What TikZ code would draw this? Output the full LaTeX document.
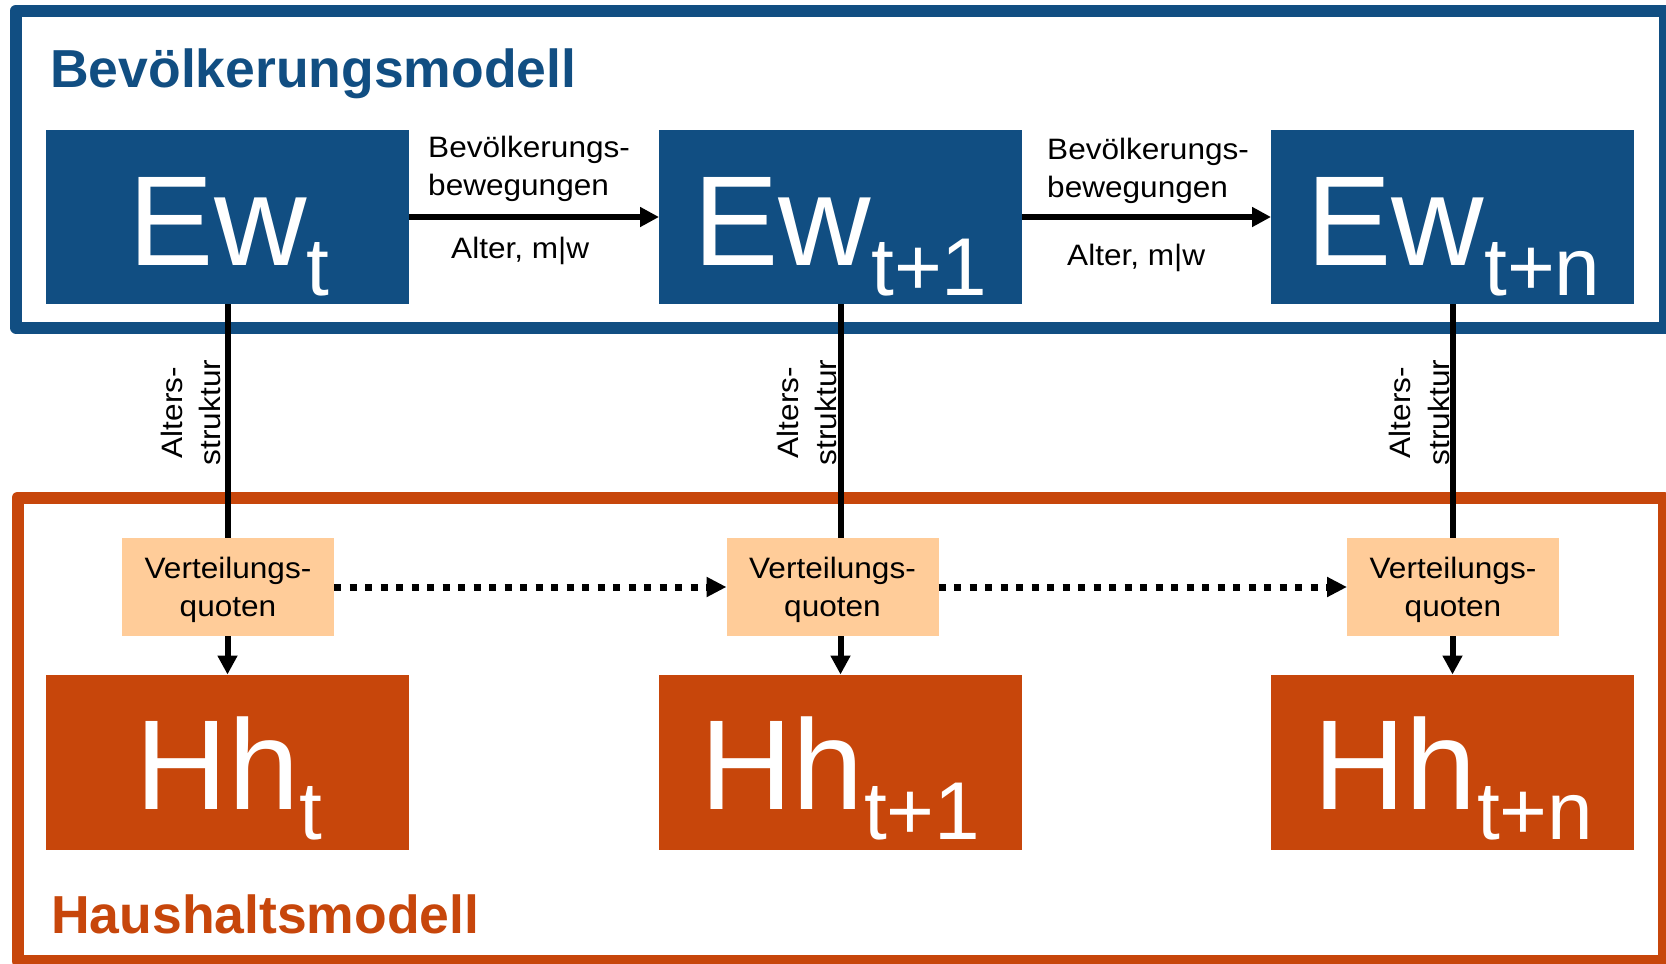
\documentclass[tikz,border=0pt]{standalone}
\usepackage{fontspec}
\setmainfont{Liberation Sans}
\newfontfamily\lblfont[FakeStretch=1.07]{Liberation Sans}
\usetikzlibrary{arrows.meta,calc}
\definecolor{bvblue}{HTML}{114E82}
\definecolor{hhorange}{HTML}{C7460B}
\definecolor{vqpeach}{HTML}{FFCC99}
\begin{document}
\begin{tikzpicture}[x=1pt,y=-1pt,
  frame/.style={line width=12pt, line join=round},
  ewbox/.style={fill=bvblue, draw=none, minimum width=363pt, minimum height=174pt, inner sep=0pt, outer sep=0pt},
  hhbox/.style={fill=hhorange, draw=none, minimum width=363pt, minimum height=175pt, inner sep=0pt, outer sep=0pt},
  bigtxt/.style={text=white, font=\fontsize{128}{128}\selectfont, inner sep=0pt, anchor=base},
  vqbox/.style={fill=vqpeach, draw=none, minimum width=212pt, minimum height=98pt, inner sep=0pt, outer sep=0pt},
  vqtxt/.style={inner sep=0pt, align=center, font=\lblfont\fontsize{29.5}{38.5}\selectfont},
  lbl/.style={font=\lblfont\fontsize{29.5}{38.5}\selectfont, inner sep=0pt, align=left, anchor=base west},
  rotlbl/.style={font=\lblfont\fontsize{29.5}{38.5}\selectfont, inner sep=0pt, align=center, rotate=90, anchor=south},
  conn/.style={line width=6pt, -{Triangle[length=19pt,width=19pt]}},
  plainconn/.style={line width=6pt},
  dotconn/.style={line width=7pt, dash pattern=on 7pt off 8.5pt, -{Triangle[length=20pt,width=19pt]}},
  titletxt/.style={font=\bfseries\fontsize{53.5}{53.5}\selectfont, inner sep=0pt, anchor=base west}
]
\useasboundingbox (0,0) rectangle (1666,964);
\fill[white] (0,0) rectangle (1666,964);
% frames
\draw[frame, draw=bvblue] (16,10.5) rectangle (1665,327.5);
\draw[frame, draw=hhorange] (17.5,497.5) rectangle (1664,961);
% titles
\node[titletxt, text=bvblue] (t1) at (50,87) {Bevölkerungsmodell};
\node[titletxt, text=hhorange] (t2) at (51,933) {Haushaltsmodell};
% Ew boxes
\node[ewbox] (ew1) at (227.5,217) {};
\node[ewbox] (ew2) at (840.5,217) {};
\node[ewbox] (ew3) at (1452.5,217) {};
\node[bigtxt] (ew1t) at (229,265) {Ew\raisebox{-30pt}{\fontsize{82}{82}\selectfont t}};
\node[bigtxt] (ew2t) at (840.5,265) {Ew\raisebox{-30pt}{\fontsize{82}{82}\selectfont t+1}};
\node[bigtxt] (ew3t) at (1453.5,265) {Ew\raisebox{-30pt}{\fontsize{82}{82}\selectfont t+n}};
% Hh boxes
\node[hhbox] (hh1) at (227.5,762) {};
\node[hhbox] (hh2) at (840.5,762) {};
\node[hhbox] (hh3) at (1452.5,762) {};
\node[bigtxt] (hh1t) at (229,809) {Hh\raisebox{-30pt}{\fontsize{82}{82}\selectfont t}};
\node[bigtxt] (hh2t) at (840.5,809) {Hh\raisebox{-30pt}{\fontsize{82}{82}\selectfont t+1}};
\node[bigtxt] (hh3t) at (1453.5,809) {Hh\raisebox{-30pt}{\fontsize{82}{82}\selectfont t+n}};
% Verteilungsquoten
\node[vqbox] (vq1) at (228,587) {};
\node[vqbox] (vq2) at (832.5,587) {};
\node[vqbox] (vq3) at (1453,587) {};
\node[vqtxt] (vq1t) at (228,590) {Verteilungs-\\quoten};
\node[vqtxt] (vq2t) at (832.5,590) {Verteilungs-\\quoten};
\node[vqtxt] (vq3t) at (1453,590) {Verteilungs-\\quoten};
% horizontal arrows
\draw[conn] (ew1) -- (ew2);
\draw[conn] (ew2) -- (ew3);
\node[lbl] (bl1) at (428,195.5) {Bevölkerungs-\\bewegungen};
\node[lbl] (bl2) at (1047,197.5) {Bevölkerungs-\\bewegungen};
\node[lbl] (am1) at (451,258) {Alter, m|w};
\node[lbl] (am2) at (1067,265) {Alter, m|w};
% vertical connectors
\draw[plainconn] (ew1.south) -- (ew1.south |- vq1.north);
\draw[plainconn] (ew2.south) -- (ew2.south |- vq2.north);
\draw[plainconn] (ew3.south) -- (ew3.south |- vq3.north);
\draw[conn] (ew1.south |- vq1.south) -- (hh1.north);
\draw[conn] (ew2.south |- vq2.south) -- (hh2.north);
\draw[conn] (ew3.south |- vq3.south) -- (hh3.north);
\node[rotlbl] (as1) at (221,412.5) {Alters-\\struktur};
\node[rotlbl] (as2) at (837,412.5) {Alters-\\struktur};
\node[rotlbl] (as3) at (1449.5,412.5) {Alters-\\struktur};
% dotted arrows
\draw[dotconn] (vq1) -- (vq2);
\draw[dotconn] (vq2) -- (vq3);
\end{tikzpicture}
\end{document}
